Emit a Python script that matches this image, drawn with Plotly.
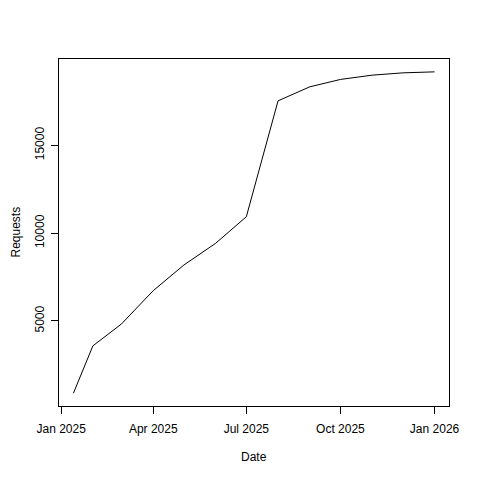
import pandas as pd
import plotly.graph_objects as go

# cumulative requests
dates = ["2025-01-13", "2025-02-01", "2025-03-01", "2025-04-01", "2025-05-01",
         "2025-06-01", "2025-07-01", "2025-08-01", "2025-09-01", "2025-10-01",
         "2025-11-01", "2025-12-01", "2026-01-01"]
requests = [885, 3577, 4829, 6725, 8187, 9422, 10936, 17538, 18335, 18756,
            19000, 19132, 19189]

x_ticks = ["2025-01-01", "2025-04-01", "2025-07-01", "2025-10-01", "2026-01-01"]
x_labels = ["Jan 2025", "Apr 2025", "Jul 2025", "Oct 2025", "Jan 2026"]
y_ticks = [5000, 10000, 15000]
y_labels = ["5000", "10000", "15000"]

FONT = "Liberation Sans, Arial, sans-serif"

# R-style 4% padding around the data range
d = pd.to_datetime(dates)
pad_x = (d.max() - d.min()) * 0.04
pad_y = (max(requests) - min(requests)) * 0.04

fig = go.Figure(go.Scatter(
    x=dates, y=requests, mode="lines",
    line=dict(color="black", width=1),
))

axis_common = dict(
    showgrid=False, zeroline=False,
    showline=True, mirror=True, linecolor="black", linewidth=1,
    ticks="outside", ticklen=7, tickcolor="black", tickwidth=1,
    tickfont=dict(family=FONT, size=12, color="black"),
)

fig.update_xaxes(
    range=[d.min() - pad_x, d.max() + pad_x],
    tickvals=x_ticks, ticktext=x_labels, ticklabelstandoff=5,
    **axis_common,
)
fig.update_yaxes(
    range=[min(requests) - pad_y, max(requests) + pad_y],
    tickvals=y_ticks, ticktext=y_labels, tickangle=-90, ticklabelstandoff=2,
    **axis_common,
)

fig.add_annotation(text="Date", xref="paper", yref="paper", x=0.5, y=0,
                   yshift=-51, showarrow=False, yanchor="middle",
                   font=dict(family=FONT, size=12, color="black"))
# the page has an 8px body margin, so this can't sit quite as far left as in R
fig.add_annotation(text="Requests", xref="paper", yref="paper", x=0, y=0.5,
                   xshift=-44, showarrow=False, xanchor="center", textangle=-90,
                   font=dict(family=FONT, size=12, color="black"))

fig.update_layout(
    width=472, height=472,
    margin=dict(l=51, r=31, t=51, b=74),
    paper_bgcolor="white", plot_bgcolor="white",
    showlegend=False,
)

fig.write_html("out.html")
